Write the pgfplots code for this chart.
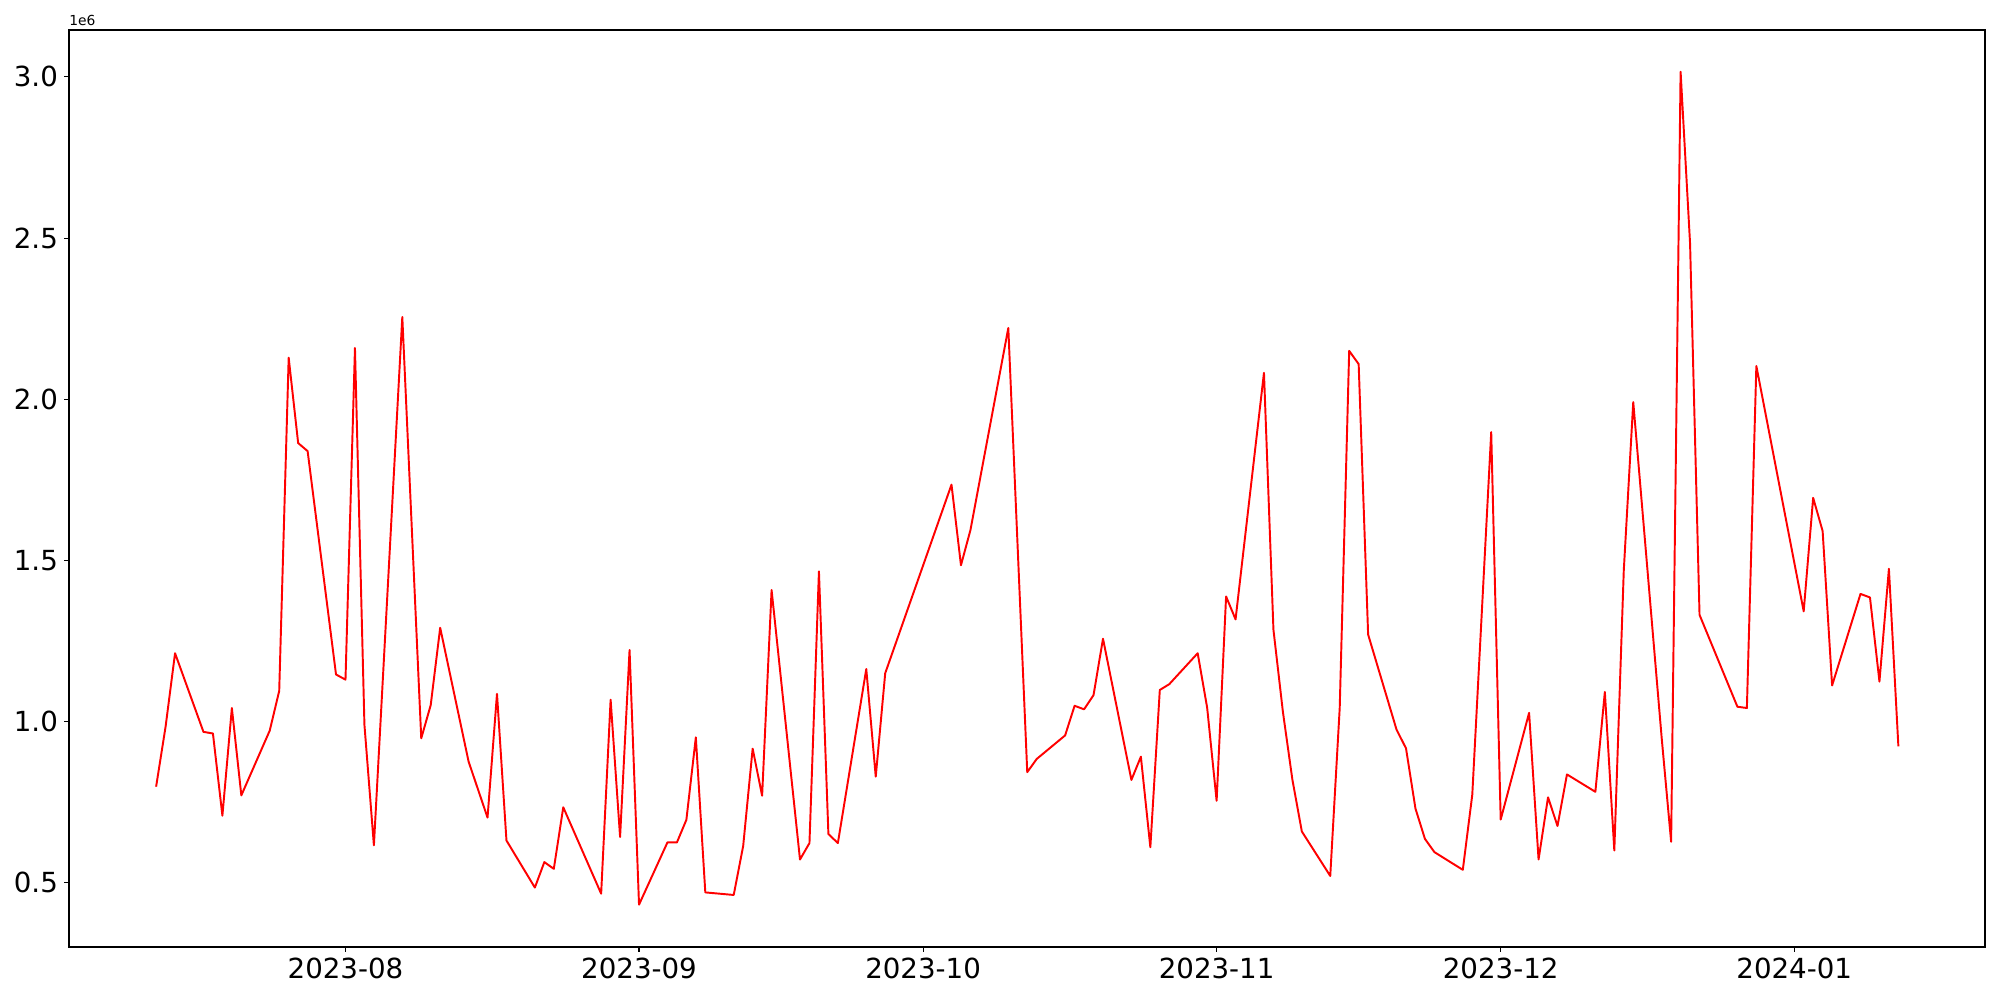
\documentclass[border=0pt]{standalone}
\usepackage{pgfplots}
\pgfplotsset{compat=1.18}
\usepackage{fontspec}
\setmainfont{DejaVu Sans}
\begin{document}
\begin{tikzpicture}
\path[use as bounding box] (-49.87pt,-38.3pt) rectangle (1395.54pt,684.38pt);
\begin{axis}[
  at={(0pt,0pt)}, anchor=south west,
  width=1384.7pt, height=662.7pt, scale only axis,
  xmin=-29.2, xmax=173.15,
  ymin=0.3007, ymax=3.1455,
  xtick={0,31,61,92,122,153},
  xticklabels={2023-08,2023-09,2023-10,2023-11,2023-12,2024-01},
  ytick={0.5,1.0,1.5,2.0,2.5,3.0},
  yticklabels={0.5,1.0,1.5,2.0,2.5,3.0},
  tick align=outside, xtick pos=bottom, ytick pos=left,
  major tick length=3.5pt,
  every tick/.style={black, line width=0.8pt},
  axis line style={line width=0.8pt},
  tick label style={font=\fontsize{20}{24}\selectfont},
  /pgf/number format/assume math mode=true,
  xticklabel style={yshift=-1pt},
  yticklabel style={xshift=-1pt},
  clip=false,
]
\addplot[red, line width=1.4pt, line join=round, line cap=butt, no markers] coordinates {
(-20,0.798) (-19,0.984) (-18,1.212) (-15,0.968) (-14,0.963) (-13,0.708) (-12,1.042) (-11,0.771)
(-8,0.972) (-7,1.095) (-6,2.129) (-5,1.864) (-4,1.839) (-1,1.146) (0,1.130) (1,2.159) (2,0.990) (3,0.616)
(6,2.255) (8,0.948) (9,1.051) (10,1.291) (13,0.876) (15,0.702) (16,1.086) (17,0.631)
(20,0.485) (21,0.564) (22,0.543) (23,0.734) (27,0.466) (28,1.068) (29,0.642) (30,1.222) (31,0.432)
(34,0.625) (35,0.625) (36,0.695) (37,0.951) (38,0.470) (41,0.462) (42,0.614) (43,0.916) (44,0.770) (45,1.408)
(48,0.572) (49,0.623) (50,1.466) (51,0.651) (52,0.623) (55,1.163) (56,0.829) (57,1.150)
(64,1.735) (65,1.485) (66,1.594) (70,2.221) (72,0.843) (73,0.884) (76,0.957) (77,1.049) (78,1.038) (79,1.082) (80,1.257)
(83,0.819) (84,0.891) (85,0.610) (86,1.098) (87,1.116) (90,1.212) (91,1.043) (92,0.754) (93,1.388) (94,1.317)
(97,2.082) (98,1.285) (99,1.030) (100,0.820) (101,0.659) (104,0.521) (105,1.042) (106,2.150) (107,2.109) (108,1.270)
(111,0.975) (112,0.917) (113,0.730) (114,0.636) (115,0.595) (118,0.540) (119,0.773) (121,1.898) (122,0.696)
(125,1.027) (126,0.572) (127,0.765) (128,0.676) (129,0.836) (132,0.782) (133,1.092) (134,0.600) (135,1.469) (136,1.991)
(139,0.950) (140,0.627) (141,3.016) (142,2.483) (143,1.331) (147,1.046) (148,1.042) (149,2.103)
(154,1.342) (155,1.694) (156,1.591) (157,1.112) (160,1.396) (161,1.385) (162,1.124) (163,1.474) (164,0.923)
};
\node[anchor=south west, inner sep=0pt, font=\fontsize{10}{12}\selectfont] at (rel axis cs:0,1) [yshift=3pt] {1e6};
\end{axis}
\end{tikzpicture}
\end{document}
